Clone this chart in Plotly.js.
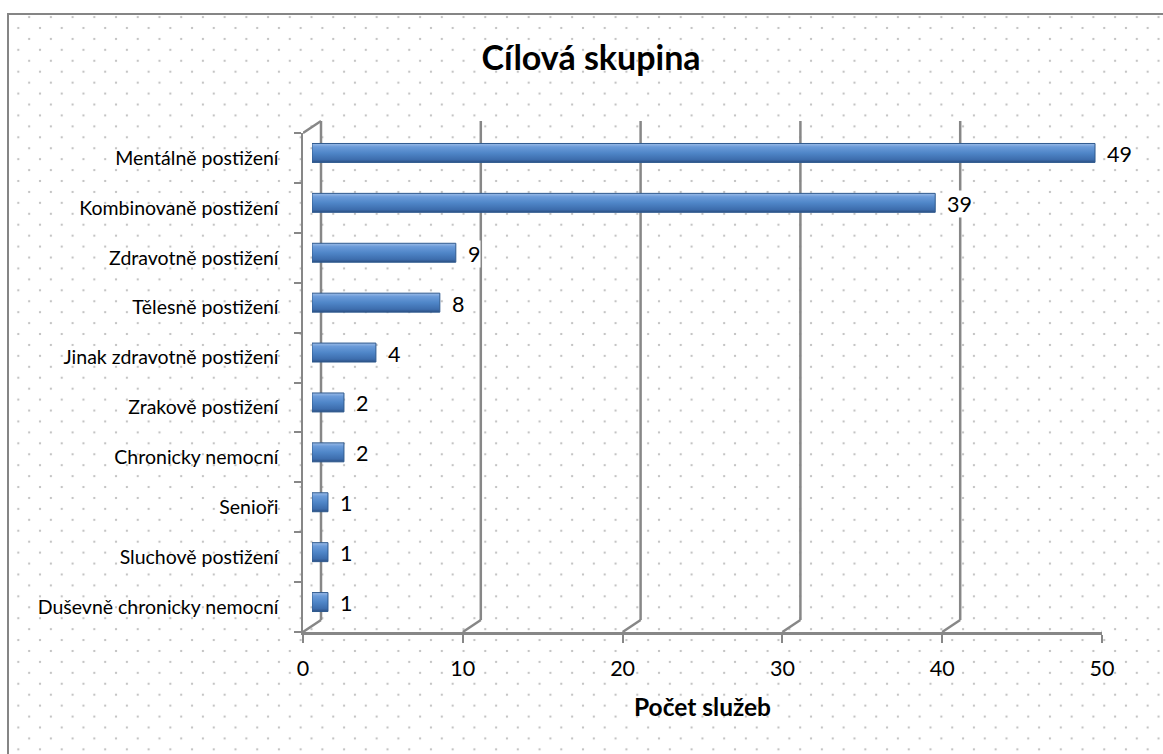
<!DOCTYPE html>
<html>
<head>
<meta charset="utf-8">
<script src="https://cdn.plot.ly/plotly-3.0.1.min.js"></script>
<style>
  html, body { margin: 0; padding: 0; background: #ffffff; overflow: hidden; }
  #frame {
    position: absolute; left: 7px; top: 13px; width: 1300px; height: 900px;
    border: 2px solid #858585;
    background-color: #ffffff;
    background-image:
      radial-gradient(circle, #bdbdbd 0px, #c6c6c6 0.9px, rgba(255,255,255,0) 1.6px),
      radial-gradient(circle, #bdbdbd 0px, #c6c6c6 0.9px, rgba(255,255,255,0) 1.6px);
    background-size: 21.73px 21.87px, 21.73px 21.87px;
    background-position: 20.16px 2.06px, 9.3px 13px;
  }
  #chart { position: absolute; left: 0; top: 0; width: 1163px; height: 754px; }
</style>
</head>
<body>
<div id="frame"></div>
<div id="chart"></div>
<script>
const categories = [
  "Mentálně postižení",
  "Kombinovaně postižení",
  "Zdravotně postižení",
  "Tělesně postižení",
  "Jinak zdravotně postižení",
  "Zrakově postižení",
  "Chronicky nemocní",
  "Senioři",
  "Sluchově postižení",
  "Duševně chronicky nemocní"
];
const values = [49, 39, 9, 8, 4, 2, 2, 1, 1, 1];
const xTicks = [0, 10, 20, 30, 40, 50];
const chartTitle = "Cílová skupina";
const xTitle = "Počet služeb";

const FONT = "Lato, 'Open Sans', sans-serif";
const AXIS = "#878787";

// geometry (pixels)
const W = 1163, H = 754;
const L = 303, R = 1120, T = 121, B = 632;
const PW = R - L, PH = B - T;
const depthX = 18, depthY = 12;
const barDX = 9, barDY = 5;

const barTrace = {
  type: "bar",
  orientation: "h",
  y: categories,
  x: values,
  xaxis: "x",
  yaxis: "y",
  width: 0.38,
  marker: { color: "#4f81bd", line: { color: "#2f5a8e", width: 1 } },
  hoverinfo: "x+y"
};

const shapes = [];
const gridLine = { color: AXIS, width: 2.5 };
xTicks.forEach(k => {
  shapes.push({ type: "line", layer: "below", xref: "x2", yref: "paper",
    xsizemode: "pixel", ysizemode: "pixel", xanchor: k, yanchor: 0,
    x0: 0, x1: depthX, y0: 0, y1: depthY, line: gridLine });
  shapes.push({ type: "line", layer: "below", xref: "x2", yref: "paper",
    xsizemode: "pixel", ysizemode: "pixel", xanchor: k, yanchor: 0,
    x0: depthX, x1: depthX, y0: depthY, y1: PH, line: gridLine });
});
shapes.push({ type: "line", layer: "below", xref: "x2", yref: "paper",
  xsizemode: "pixel", ysizemode: "pixel", xanchor: xTicks[0], yanchor: 0,
  x0: 0, x1: depthX, y0: PH - depthY, y1: PH, line: gridLine });

const annotations = values.map((v, i) => ({
  x: v, y: categories[i], xref: "x", yref: "y",
  text: String(v), showarrow: false, xanchor: "left", yanchor: "middle",
  xshift: 11, yshift: -1, bgcolor: "#ffffff", borderpad: 0,
  font: { family: FONT, size: 21.5, color: "#000000" }
}));

const layout = {
  width: W, height: H,
  margin: { l: L, r: W - R, t: T, b: H - B, pad: 0 },
  paper_bgcolor: "rgba(0,0,0,0)",
  plot_bgcolor: "rgba(0,0,0,0)",
  showlegend: false,
  font: { family: FONT, color: "#000000" },
  title: {
    text: chartTitle,
    font: { family: FONT, size: 34, weight: "bold", color: "#000000" },
    xref: "container", x: 591 / W, xanchor: "center",
    yref: "container", y: 1 - 58 / H, yanchor: "middle"
  },
  xaxis: {
    domain: [barDX / PW, (barDX + PW - depthX) / PW],
    range: [0, 50], visible: false, fixedrange: true
  },
  yaxis: {
    domain: [barDY / PH, (barDY + PH - depthY) / PH],
    type: "category", categoryarray: categories, categoryorder: "array",
    autorange: "reversed", visible: false, fixedrange: true
  },
  xaxis2: {
    anchor: "y2",
    domain: [0, (PW - depthX) / PW],
    range: [0, 50],
    tickmode: "array", tickvals: xTicks,
    ticks: "outside", ticklen: 8, tickwidth: 2, tickcolor: AXIS,
    ticklabelstandoff: 8,
    showline: true, linecolor: AXIS, linewidth: 2.5,
    showgrid: false, zeroline: false,
    tickfont: { family: FONT, size: 21.5, color: "#000000" },
    title: { text: xTitle, standoff: 19,
      font: { family: FONT, size: 24.5, weight: "bold", color: "#000000" } },
    fixedrange: true
  },
  yaxis2: {
    anchor: "x2",
    domain: [0, (PH - depthY) / PH],
    range: [categories.length - 0.5, -0.5],
    tickmode: "array",
    tickvals: categories.map((c, i) => i),
    ticktext: categories,
    ticks: "outside", ticklen: 0.1, tickcolor: "rgba(0,0,0,0)",
    ticklabelstandoff: 18,
    minor: { tickmode: "linear", tick0: -0.5, dtick: 1, ticks: "outside",
      ticklen: 7, tickwidth: 2, tickcolor: AXIS, showgrid: false },
    showline: true, linecolor: AXIS, linewidth: 2.5,
    showgrid: false, zeroline: false,
    tickfont: { family: FONT, size: 19.5, color: "#000000" },
    fixedrange: true
  },
  shapes: shapes,
  annotations: annotations
};

Plotly.newPlot("chart", [barTrace], layout, { displayModeBar: false, staticPlot: true }).then(gd => {
  // cylinder-like shading for the bars (style only)
  const svg = gd.querySelector("svg.main-svg");
  const NS = "http://www.w3.org/2000/svg";
  let defs = svg.querySelector("defs");
  if (!defs) { defs = document.createElementNS(NS, "defs"); svg.insertBefore(defs, svg.firstChild); }
  const grad = document.createElementNS(NS, "linearGradient");
  grad.setAttribute("id", "barShade");
  grad.setAttribute("x1", "0"); grad.setAttribute("y1", "0");
  grad.setAttribute("x2", "0"); grad.setAttribute("y2", "1");
  [["0", "#9dbde8"], ["0.18", "#6b9bd9"], ["0.5", "#4f86c8"], ["0.85", "#3d6dad"], ["1", "#2c4f82"]].forEach(([o, c]) => {
    const s = document.createElementNS(NS, "stop");
    s.setAttribute("offset", o); s.setAttribute("stop-color", c);
    grad.appendChild(s);
  });
  defs.appendChild(grad);
  gd.querySelectorAll(".barlayer .point path").forEach(p => {
    p.style.fill = "url(#barShade)";
  });
});
</script>
</body>
</html>
